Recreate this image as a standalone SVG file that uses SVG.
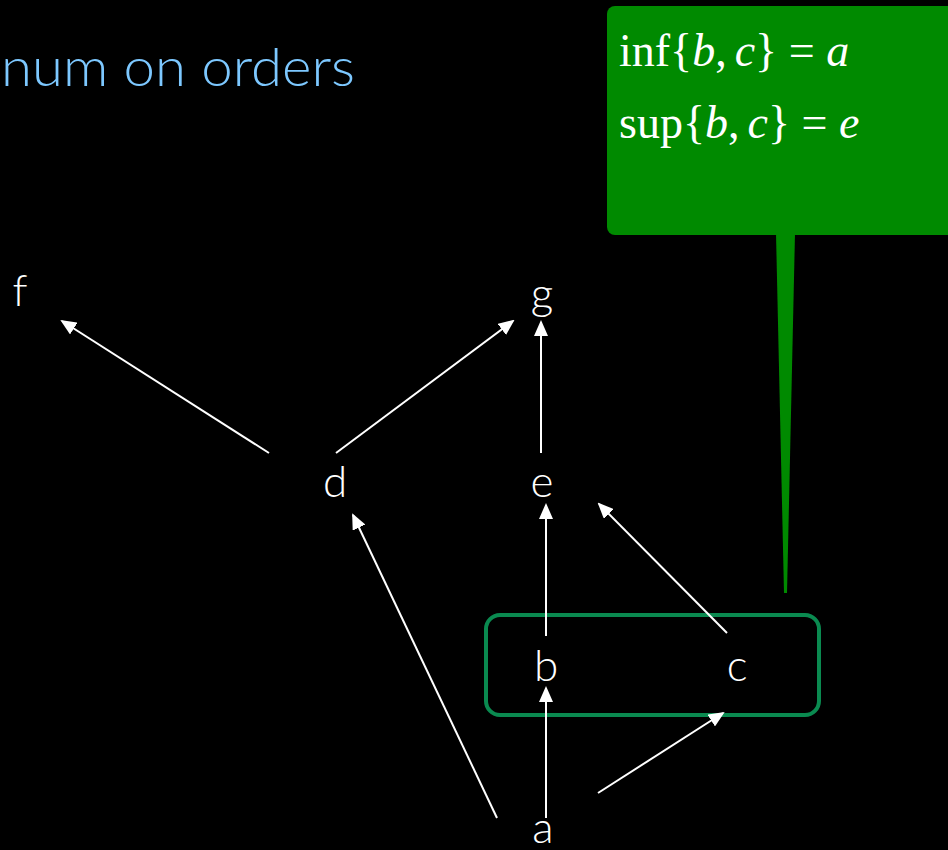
<svg xmlns="http://www.w3.org/2000/svg" width="948" height="850" viewBox="0 0 948 850">
<style>
.lbl{font-family:Lato,"Open Sans","Liberation Sans",sans-serif;font-size:44px;font-weight:300;fill:#fff;text-anchor:middle;}
.edge{stroke:#fff;stroke-width:2;fill:none;marker-end:url(#ah);}
.math{font-family:"Liberation Serif",serif;font-size:46px;fill:#fff;}
</style>
<defs>
<marker id="ah" markerWidth="8" markerHeight="7" refX="7" refY="3.5" orient="auto" markerUnits="strokeWidth">
<path d="M0,0 L8,3.5 L0,7 Z" fill="#fff"/>
</marker>
</defs>
<rect width="948" height="850" fill="#000"/>
<text x="1" y="86" font-family="Lato,'Open Sans','Liberation Sans',sans-serif" font-size="54" font-weight="300" fill="#7DC8FF" textLength="354" lengthAdjust="spacingAndGlyphs">num on orders</text>
<g id="callout">
<rect x="607" y="6" width="360" height="229" rx="8" fill="#008A00"/>
<path d="M776,233 L795,233 L787,593 L784,593 Z" fill="#008A00"/>
<text class="math" x="619" y="66">inf{<tspan font-style="italic">b</tspan>,<tspan font-style="italic" dx="8">c</tspan>} = <tspan font-style="italic">a</tspan></text>
<text class="math" x="619" y="138">sup{<tspan font-style="italic">b</tspan>,<tspan font-style="italic" dx="8">c</tspan>} = <tspan font-style="italic">e</tspan></text>
</g>
<g id="selection">
<rect x="486" y="615" width="333" height="100" rx="14" fill="none" stroke="#0A8A50" stroke-width="4"/>
</g>
<g id="connectors">
<line class="edge" x1="269" y1="453" x2="62" y2="321"/>
<line class="edge" x1="336" y1="453" x2="513" y2="321"/>
<line class="edge" x1="541" y1="453" x2="541" y2="322"/>
<line class="edge" x1="497" y1="818" x2="353" y2="515"/>
<line class="edge" x1="546" y1="636" x2="546" y2="505"/>
<line class="edge" x1="727" y1="633" x2="599" y2="504"/>
<line class="edge" x1="546" y1="818" x2="546" y2="688"/>
<line class="edge" x1="598" y1="793" x2="723" y2="713"/>
</g>
<g id="node-f"><text class="lbl" x="20" y="306">f</text></g>
<g id="node-g"><text class="lbl" x="542" y="309">g</text></g>
<g id="node-d"><text class="lbl" x="335" y="497">d</text></g>
<g id="node-e"><text class="lbl" x="542" y="497">e</text></g>
<g id="node-b"><text class="lbl" x="546" y="681">b</text></g>
<g id="node-c"><text class="lbl" x="737" y="681">c</text></g>
<g id="node-a"><text class="lbl" x="543" y="843">a</text></g>
</svg>
